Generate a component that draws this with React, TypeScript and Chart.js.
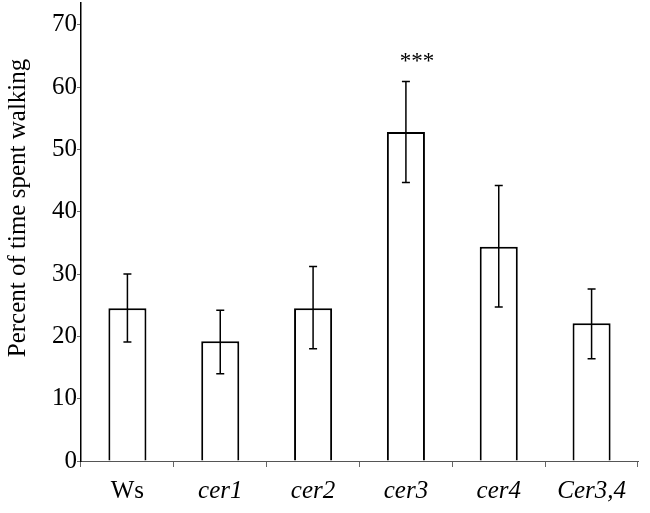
import React, { useEffect, useRef } from "react";
import { Chart, registerables } from "chart.js";

Chart.register(...registerables);

const categories = ["Ws", "cer1", "cer2", "cer3", "cer4", "Cer3,4"];
const values = [24.5, 19.2, 24.5, 52.8, 34.4, 22.1];
const errUpper = [30.0, 24.2, 31.2, 60.9, 44.2, 27.6];
const errLower = [19.1, 14.0, 18.0, 44.7, 24.7, 16.4];
const significance = ["", "", "", "***", "", ""];
const yTitle = "Percent of time spent walking";
const yMax = 73.5;
const yStep = 10;

const FONT = "'Liberation Serif', 'Times New Roman', serif";

const errorBarPlugin = {
  id: "errorBars",
  afterDatasetsDraw(chart: any) {
    const { ctx } = chart;
    const x = chart.scales.x;
    const y = chart.scales.y;
    ctx.save();
    ctx.strokeStyle = "#000";
    ctx.lineWidth = 1.5;
    categories.forEach((_, i) => {
      const px = x.getPixelForValue(i);
      const top = y.getPixelForValue(errUpper[i]);
      const bot = y.getPixelForValue(errLower[i]);
      ctx.beginPath();
      ctx.moveTo(px, top);
      ctx.lineTo(px, bot);
      ctx.moveTo(px - 4, top);
      ctx.lineTo(px + 4, top);
      ctx.moveTo(px - 4, bot);
      ctx.lineTo(px + 4, bot);
      ctx.stroke();
      if (significance[i]) {
        ctx.fillStyle = "#000";
        ctx.font = `23px ${FONT}`;
        ctx.textAlign = "center";
        ctx.textBaseline = "alphabetic";
        ctx.fillText(significance[i], px + 11, top - 14);
      }
    });
    // y-axis title (shifted slightly above the axis centre, as in the reference)
    const cy = (y.top + y.bottom) / 2 - 24;
    ctx.translate(18, cy);
    ctx.rotate(-Math.PI / 2);
    ctx.fillStyle = "#000";
    ctx.font = `25px ${FONT}`;
    ctx.textAlign = "center";
    ctx.textBaseline = "middle";
    ctx.fillText(yTitle, 0, 0);
    ctx.restore();
  },
};

export default function App() {
  const ref = useRef<HTMLCanvasElement | null>(null);

  useEffect(() => {
    document.body.style.margin = "0";
    const canvas = ref.current;
    if (!canvas) return;
    const chart = new Chart(canvas, {
      type: "bar",
      data: {
        labels: categories,
        datasets: [
          {
            data: values,
            backgroundColor: "#ffffff",
            borderColor: "#000000",
            borderWidth: 2,
            barPercentage: 0.41,
            categoryPercentage: 1,
          },
        ],
      },
      options: {
        animation: false,
        responsive: true,
        maintainAspectRatio: false,
        layout: { padding: { top: 3, right: 12, left: 0, bottom: 0 } },
        plugins: {
          legend: { display: false },
          tooltip: { enabled: false },
        },
        scales: {
          x: {
            grid: {
              display: true,
              drawOnChartArea: false,
              drawTicks: true,
              tickLength: 6,
              color: "#666",
              offset: true,
            },
            border: { display: true, color: "#555", width: 1 },
            ticks: {
              color: "#000",
              padding: 9,
              font: (ctx: any) => ({
                family: FONT,
                size: 25,
                style: ctx.index === 0 ? "normal" : "italic",
              }),
            },
            afterFit: (scale: any) => {
              scale.height = 52;
              scale.paddingLeft = 0;
              scale.paddingRight = 0;
            },
          },
          y: {
            min: 0,
            max: yMax,
            grid: {
              display: true,
              drawOnChartArea: false,
              drawTicks: true,
              tickLength: 4,
              color: "#666",
            },
            border: { display: true, color: "#000", width: 1.5 },
            ticks: {
              stepSize: yStep,
              includeBounds: false,
              color: "#000",
              padding: 0,
              font: { family: FONT, size: 25 },
            },
            afterFit: (scale: any) => {
              scale.width = 81;
              scale.paddingTop = 0;
              scale.paddingBottom = 0;
            },
          },
        },
      },
      plugins: [errorBarPlugin],
    });
    return () => chart.destroy();
  }, []);

  return (
    <div style={{ width: 650, height: 513, position: "relative" }}>
      <canvas ref={ref} />
    </div>
  );
}
